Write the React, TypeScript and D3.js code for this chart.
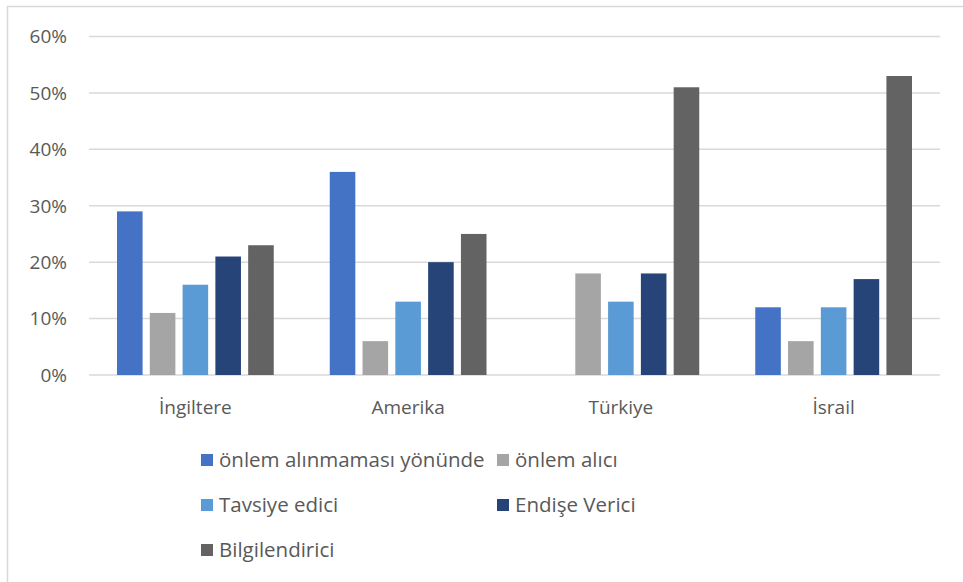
import * as d3 from 'd3';

const categories = ['İngiltere', 'Amerika', 'Türkiye', 'İsrail'];
const seriesNames = [
  'önlem alınmaması yönünde',
  'önlem alıcı',
  'Tavsiye edici',
  'Endişe Verici',
  'Bilgilendirici',
];
// values in percent, one array per series, in category order
const onlemAlinmamasi = [29, 36, 0, 12];
const onlemAlici = [11, 6, 18, 6];
const tavsiyeEdici = [16, 13, 13, 12];
const endiseVerici = [21, 20, 18, 17];
const bilgilendirici = [23, 25, 51, 53];
const yTicks = [0, 10, 20, 30, 40, 50, 60];

const seriesValues = [onlemAlinmamasi, onlemAlici, tavsiyeEdici, endiseVerici, bilgilendirici];
const colors = ['#4472C4', '#A5A5A5', '#5B9BD5', '#264478', '#636363'];

const W = 963;
const H = 582;
const font = "'Open Sans', 'Liberation Sans', sans-serif";
const textColor = '#595959';

const App = () => {
  const x0 = d3.scaleBand<string>().domain(categories).range([89, 940]).paddingInner(0).paddingOuter(0);
  const groupPad = 28;
  const x1 = d3
    .scaleBand<string>()
    .domain(seriesNames)
    .range([groupPad, x0.bandwidth() - groupPad])
    .paddingInner(0.22)
    .paddingOuter(0);
  const y = d3.scaleLinear().domain([0, 60]).range([375, 36.5]);

  const legendRows = [
    [0, 1],
    [2, 3],
    [4],
  ];
  const legendColX = [201, 497];
  const legendRowY = [460, 505, 550];

  return (
    <svg
      width={W}
      height={H}
      style={{ position: 'absolute', left: 0, top: 0, background: '#fff' }}
      fontFamily={font}
    >
      <rect x={7.5} y={6.5} width={1000} height={700} fill="#fff" stroke="#d9d9d9" strokeWidth={1.5} />
      {yTicks.map((t) => (
        <g key={t}>
          <line x1={89} x2={940} y1={y(t)} y2={y(t)} stroke="#d9d9d9" strokeWidth={1.5} />
          <text x={67} y={y(t)} dy="0.36em" textAnchor="end" fontSize={19} fill={textColor}>
            {t}%
          </text>
        </g>
      ))}
      {categories.map((c, ci) => (
        <g key={c} transform={`translate(${x0(c)},0)`}>
          {seriesNames.map((s, si) => {
            const v = seriesValues[si][ci];
            return (
              <rect
                key={s}
                x={x1(s)}
                y={y(v)}
                width={x1.bandwidth()}
                height={y(0) - y(v)}
                fill={colors[si]}
              />
            );
          })}
          <text
            x={x0.bandwidth() / 2}
            y={407}
            dy="0.36em"
            textAnchor="middle"
            fontSize={19}
            fill={textColor}
          >
            {c}
          </text>
        </g>
      ))}
      {legendRows.map((row, ri) =>
        row.map((si, k) => (
          <g key={si} transform={`translate(${legendColX[k]},${legendRowY[ri]})`}>
            <rect x={0} y={-6} width={12} height={12} fill={colors[si]} />
            <text x={18} y={0} dy="0.36em" fontSize={20.5} fill={textColor}>
              {seriesNames[si]}
            </text>
          </g>
        ))
      )}
    </svg>
  );
};

export default App;
